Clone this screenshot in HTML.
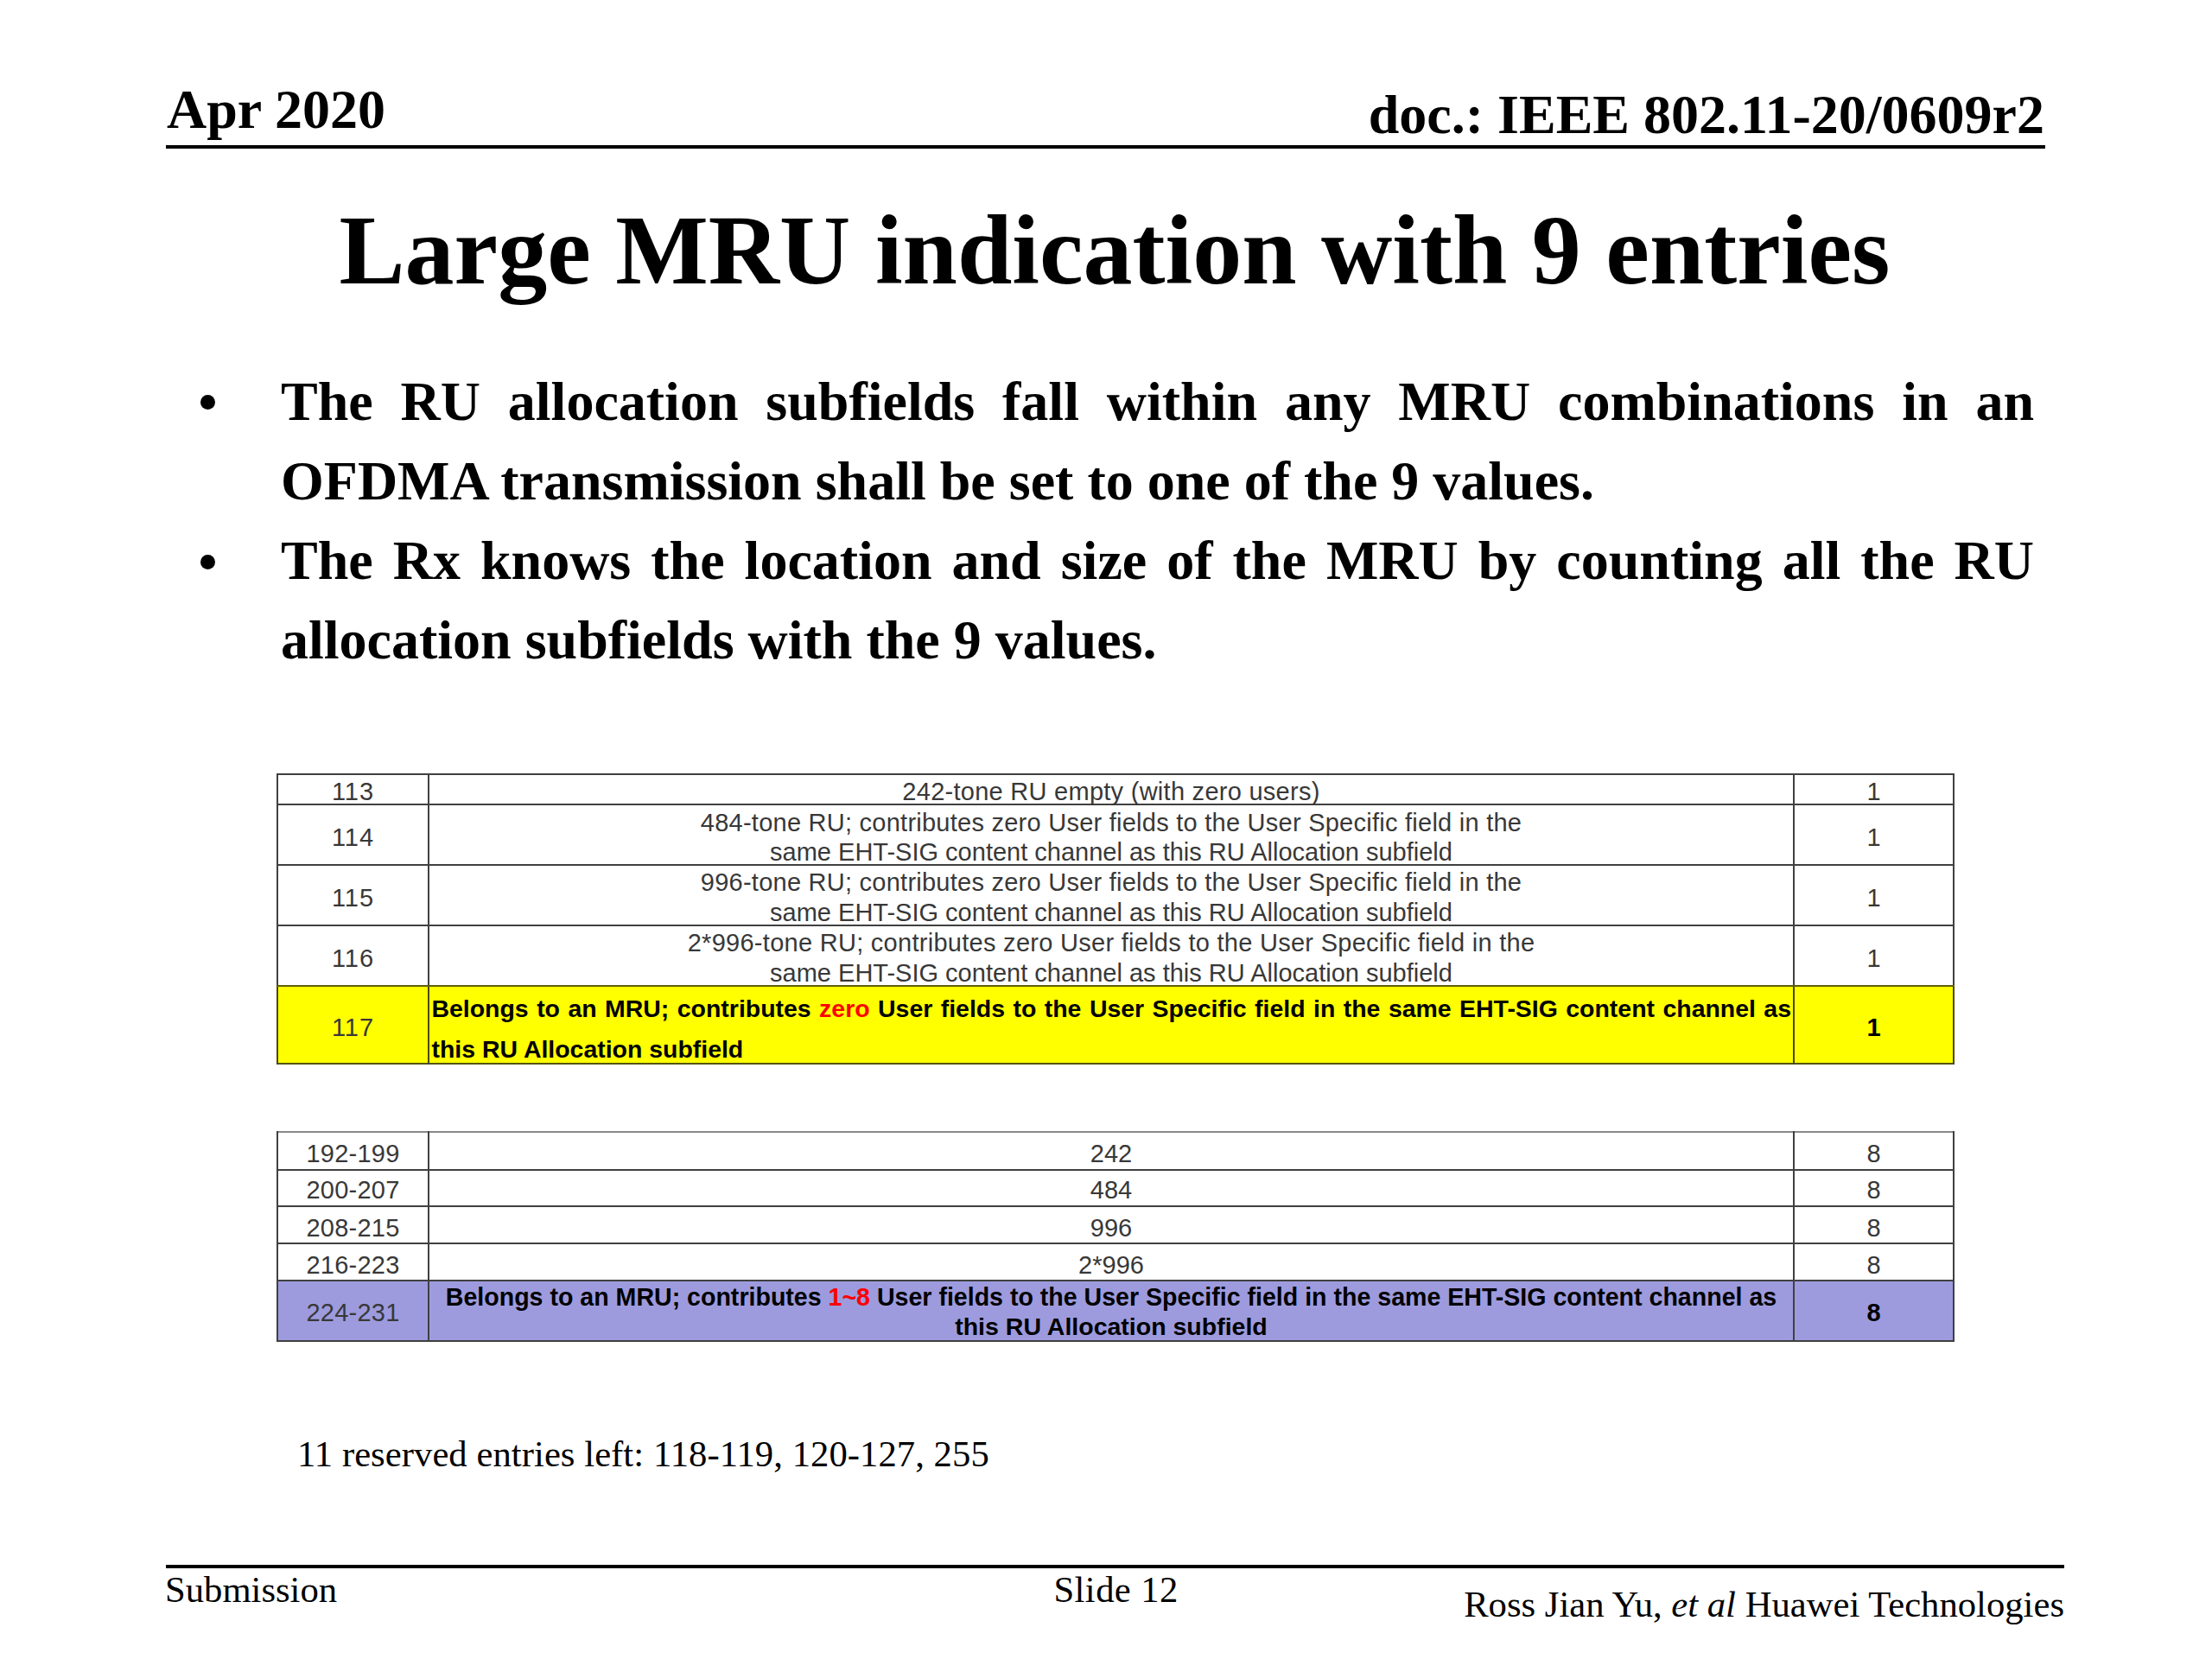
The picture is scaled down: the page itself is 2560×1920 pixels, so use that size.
<!DOCTYPE html>
<html><head><meta charset="utf-8"><style>
html,body{margin:0;padding:0;background:#fff;}
body{width:2560px;height:1920px;overflow:hidden;}
#pg{position:absolute;left:0;top:0;width:2560px;height:1920px;overflow:hidden;color:#000;background:#fff;}
.t{position:absolute;white-space:nowrap;}
.r{position:absolute;}
</style></head><body><div id="pg">
<div class="t" style="top:95.4px;font-family:'Liberation Serif', serif;font-size:64px;line-height:64px;font-weight:bold;left:193px;">Apr 2020</div>
<div class="t" style="top:101.4px;font-family:'Liberation Serif', serif;font-size:64px;line-height:64px;font-weight:bold;right:194px;text-align:right;">doc.: IEEE 802.11-20/0609r2</div>
<div class="r" style="left:192px;top:168px;width:2175px;height:4px;background:#000"></div>
<div class="t" style="top:232.5px;font-family:'Liberation Serif', serif;font-size:113.97px;line-height:114px;font-weight:bold;left:290.0px;width:2000px;text-align:center;">Large MRU indication with 9 entries</div>
<div class="r" style="left:231.5px;top:456.5px;width:17px;height:17px;border-radius:50%;background:#000"></div>
<div class="r" style="left:231.5px;top:641.5px;width:17px;height:17px;border-radius:50%;background:#000"></div>
<div class="t" style="top:419.4px;font-family:'Liberation Serif', serif;font-size:64px;line-height:92px;font-weight:bold;left:325px;width:2029px;text-align:justify;text-align-last:justify;">The RU allocation subfields fall within any MRU combinations in an</div>
<div class="t" style="top:511.4px;font-family:'Liberation Serif', serif;font-size:64px;line-height:92px;font-weight:bold;left:325px;">OFDMA transmission shall be set to one of the 9 values.</div>
<div class="t" style="top:603.4px;font-family:'Liberation Serif', serif;font-size:64px;line-height:92px;font-weight:bold;left:325px;width:2029px;text-align:justify;text-align-last:justify;">The Rx knows the location and size of the MRU by counting all the RU</div>
<div class="t" style="top:695.4px;font-family:'Liberation Serif', serif;font-size:64px;line-height:92px;font-weight:bold;left:325px;">allocation subfields with the 9 values.</div>
<div class="r" style="left:321px;top:1141px;width:1940px;height:90px;background:#FFFF00"></div>
<div class="r" style="left:320px;top:895px;width:1942px;height:2px;background:#404040"></div>
<div class="r" style="left:320px;top:930px;width:1942px;height:2px;background:#404040"></div>
<div class="r" style="left:320px;top:1000px;width:1942px;height:2px;background:#404040"></div>
<div class="r" style="left:320px;top:1070px;width:1942px;height:2px;background:#404040"></div>
<div class="r" style="left:320px;top:1140px;width:1942px;height:2px;background:#404040"></div>
<div class="r" style="left:320px;top:1230px;width:1942px;height:2px;background:#55550a"></div>
<div class="r" style="left:320px;top:895px;width:2px;height:337px;background:#404040"></div>
<div class="r" style="left:495px;top:895px;width:2px;height:337px;background:#404040"></div>
<div class="r" style="left:2075px;top:895px;width:2px;height:337px;background:#404040"></div>
<div class="r" style="left:2260px;top:895px;width:2px;height:337px;background:#404040"></div>
<div class="r" style="left:320px;top:1140px;width:1942px;height:2px;background:#5e5e0c"></div>
<div class="r" style="left:320px;top:1142px;width:2px;height:88px;background:#4a4a06"></div>
<div class="r" style="left:495px;top:1142px;width:2px;height:88px;background:#4a4a06"></div>
<div class="r" style="left:2075px;top:1142px;width:2px;height:88px;background:#4a4a06"></div>
<div class="r" style="left:2260px;top:1142px;width:2px;height:88px;background:#4a4a06"></div>
<div class="r" style="left:321px;top:1482px;width:1940px;height:70px;background:#9D9BDE"></div>
<div class="r" style="left:320px;top:1309px;width:1942px;height:2px;background:#888"></div>
<div class="r" style="left:320px;top:1353px;width:1942px;height:2px;background:#404040"></div>
<div class="r" style="left:320px;top:1395px;width:1942px;height:2px;background:#404040"></div>
<div class="r" style="left:320px;top:1438px;width:1942px;height:2px;background:#404040"></div>
<div class="r" style="left:320px;top:1481px;width:1942px;height:2px;background:#404040"></div>
<div class="r" style="left:320px;top:1551px;width:1942px;height:2px;background:#404040"></div>
<div class="r" style="left:320px;top:1309px;width:2px;height:244px;background:#404040"></div>
<div class="r" style="left:495px;top:1309px;width:2px;height:244px;background:#404040"></div>
<div class="r" style="left:2075px;top:1309px;width:2px;height:244px;background:#404040"></div>
<div class="r" style="left:2260px;top:1309px;width:2px;height:244px;background:#404040"></div>
<div class="t" style="top:901.5px;font-family:'Liberation Sans', sans-serif;font-size:29px;line-height:29px;font-weight:normal;left:321.0px;width:175px;text-align:center;color:#383838;letter-spacing:1px;">113</div>
<div class="t" style="top:901.5px;font-family:'Liberation Sans', sans-serif;font-size:29px;line-height:29px;font-weight:normal;left:476.0px;width:1620px;text-align:center;color:#383838;letter-spacing:0.27px;">242-tone RU empty (with zero users)</div>
<div class="t" style="top:901.5px;font-family:'Liberation Sans', sans-serif;font-size:29px;line-height:29px;font-weight:normal;left:2076.0px;width:185px;text-align:center;color:#383838;">1</div>
<div class="t" style="top:954.5px;font-family:'Liberation Sans', sans-serif;font-size:29px;line-height:29px;font-weight:normal;left:321.0px;width:175px;text-align:center;color:#383838;letter-spacing:1px;">114</div>
<div class="t" style="top:937.5px;font-family:'Liberation Sans', sans-serif;font-size:29px;line-height:29px;font-weight:normal;left:476.0px;width:1620px;text-align:center;color:#383838;letter-spacing:0.25px;">484-tone RU; contributes zero User fields to the User Specific field in the</div>
<div class="t" style="top:971.5px;font-family:'Liberation Sans', sans-serif;font-size:29px;line-height:29px;font-weight:normal;left:476.0px;width:1620px;text-align:center;color:#383838;letter-spacing:0.0px;">same EHT-SIG content channel as this RU Allocation subfield</div>
<div class="t" style="top:954.5px;font-family:'Liberation Sans', sans-serif;font-size:29px;line-height:29px;font-weight:normal;left:2076.0px;width:185px;text-align:center;color:#383838;">1</div>
<div class="t" style="top:1024.5px;font-family:'Liberation Sans', sans-serif;font-size:29px;line-height:29px;font-weight:normal;left:321.0px;width:175px;text-align:center;color:#383838;letter-spacing:1px;">115</div>
<div class="t" style="top:1007.0px;font-family:'Liberation Sans', sans-serif;font-size:29px;line-height:29px;font-weight:normal;left:476.0px;width:1620px;text-align:center;color:#383838;letter-spacing:0.25px;">996-tone RU; contributes zero User fields to the User Specific field in the</div>
<div class="t" style="top:1041.5px;font-family:'Liberation Sans', sans-serif;font-size:29px;line-height:29px;font-weight:normal;left:476.0px;width:1620px;text-align:center;color:#383838;letter-spacing:0.0px;">same EHT-SIG content channel as this RU Allocation subfield</div>
<div class="t" style="top:1024.5px;font-family:'Liberation Sans', sans-serif;font-size:29px;line-height:29px;font-weight:normal;left:2076.0px;width:185px;text-align:center;color:#383838;">1</div>
<div class="t" style="top:1094.5px;font-family:'Liberation Sans', sans-serif;font-size:29px;line-height:29px;font-weight:normal;left:321.0px;width:175px;text-align:center;color:#383838;letter-spacing:1px;">116</div>
<div class="t" style="top:1077.0px;font-family:'Liberation Sans', sans-serif;font-size:29px;line-height:29px;font-weight:normal;left:476.0px;width:1620px;text-align:center;color:#383838;letter-spacing:0.28px;">2*996-tone RU; contributes zero User fields to the User Specific field in the</div>
<div class="t" style="top:1111.5px;font-family:'Liberation Sans', sans-serif;font-size:29px;line-height:29px;font-weight:normal;left:476.0px;width:1620px;text-align:center;color:#383838;letter-spacing:0.0px;">same EHT-SIG content channel as this RU Allocation subfield</div>
<div class="t" style="top:1094.5px;font-family:'Liberation Sans', sans-serif;font-size:29px;line-height:29px;font-weight:normal;left:2076.0px;width:185px;text-align:center;color:#383838;">1</div>
<div class="t" style="top:1174.5px;font-family:'Liberation Sans', sans-serif;font-size:29px;line-height:29px;font-weight:normal;left:321.0px;width:175px;text-align:center;color:#383838;letter-spacing:1px;">117</div>
<div class="t" style="top:1153.1px;font-family:'Liberation Sans', sans-serif;font-size:28.44px;line-height:28px;font-weight:bold;left:499.5px;width:1573.5px;text-align:justify;text-align-last:justify;">Belongs to an MRU; contributes <span style="color:#F00">zero</span> User fields to the User Specific field in the same EHT-SIG content channel as</div>
<div class="t" style="top:1200.1px;font-family:'Liberation Sans', sans-serif;font-size:28.44px;line-height:28px;font-weight:bold;left:499.5px;">this RU Allocation subfield</div>
<div class="t" style="top:1174.5px;font-family:'Liberation Sans', sans-serif;font-size:29px;line-height:29px;font-weight:bold;left:2076.0px;width:185px;text-align:center;">1</div>
<div class="t" style="top:1320.5px;font-family:'Liberation Sans', sans-serif;font-size:29px;line-height:29px;font-weight:normal;left:321.0px;width:175px;text-align:center;color:#383838;letter-spacing:0.25px;">192-199</div>
<div class="t" style="top:1320.5px;font-family:'Liberation Sans', sans-serif;font-size:29px;line-height:29px;font-weight:normal;left:496.0px;width:1580px;text-align:center;color:#383838;">242</div>
<div class="t" style="top:1320.5px;font-family:'Liberation Sans', sans-serif;font-size:29px;line-height:29px;font-weight:normal;left:2076.0px;width:185px;text-align:center;color:#383838;">8</div>
<div class="t" style="top:1362.5px;font-family:'Liberation Sans', sans-serif;font-size:29px;line-height:29px;font-weight:normal;left:321.0px;width:175px;text-align:center;color:#383838;letter-spacing:0.25px;">200-207</div>
<div class="t" style="top:1362.5px;font-family:'Liberation Sans', sans-serif;font-size:29px;line-height:29px;font-weight:normal;left:496.0px;width:1580px;text-align:center;color:#383838;">484</div>
<div class="t" style="top:1362.5px;font-family:'Liberation Sans', sans-serif;font-size:29px;line-height:29px;font-weight:normal;left:2076.0px;width:185px;text-align:center;color:#383838;">8</div>
<div class="t" style="top:1406.5px;font-family:'Liberation Sans', sans-serif;font-size:29px;line-height:29px;font-weight:normal;left:321.0px;width:175px;text-align:center;color:#383838;letter-spacing:0.25px;">208-215</div>
<div class="t" style="top:1406.5px;font-family:'Liberation Sans', sans-serif;font-size:29px;line-height:29px;font-weight:normal;left:496.0px;width:1580px;text-align:center;color:#383838;">996</div>
<div class="t" style="top:1406.5px;font-family:'Liberation Sans', sans-serif;font-size:29px;line-height:29px;font-weight:normal;left:2076.0px;width:185px;text-align:center;color:#383838;">8</div>
<div class="t" style="top:1449.5px;font-family:'Liberation Sans', sans-serif;font-size:29px;line-height:29px;font-weight:normal;left:321.0px;width:175px;text-align:center;color:#383838;letter-spacing:0.25px;">216-223</div>
<div class="t" style="top:1449.5px;font-family:'Liberation Sans', sans-serif;font-size:29px;line-height:29px;font-weight:normal;left:496.0px;width:1580px;text-align:center;color:#383838;">2*996</div>
<div class="t" style="top:1449.5px;font-family:'Liberation Sans', sans-serif;font-size:29px;line-height:29px;font-weight:normal;left:2076.0px;width:185px;text-align:center;color:#383838;">8</div>
<div class="t" style="top:1504.5px;font-family:'Liberation Sans', sans-serif;font-size:29px;line-height:29px;font-weight:normal;left:321.0px;width:175px;text-align:center;color:#383838;letter-spacing:0.25px;">224-231</div>
<div class="t" style="top:1486.6px;font-family:'Liberation Sans', sans-serif;font-size:28.57px;line-height:29px;font-weight:bold;left:486.0px;width:1600px;text-align:center;">Belongs to an MRU; contributes <span style="color:#F00">1~8</span> User fields to the User Specific field in the same EHT-SIG content channel as</div>
<div class="t" style="top:1521.1px;font-family:'Liberation Sans', sans-serif;font-size:28.5px;line-height:28px;font-weight:bold;left:496.0px;width:1580px;text-align:center;">this RU Allocation subfield</div>
<div class="t" style="top:1504.5px;font-family:'Liberation Sans', sans-serif;font-size:29px;line-height:29px;font-weight:bold;left:2076.0px;width:185px;text-align:center;">8</div>
<div class="t" style="top:1661.1px;font-family:'Liberation Serif', serif;font-size:42.67px;line-height:43px;font-weight:normal;left:344px;letter-spacing:0.05px;">11 reserved entries left: 118-119, 120-127, 255</div>
<div class="r" style="left:192px;top:1811px;width:2197px;height:4px;background:#000"></div>
<div class="t" style="top:1818.1px;font-family:'Liberation Serif', serif;font-size:42.67px;line-height:43px;font-weight:normal;left:191px;">Submission</div>
<div class="t" style="top:1818.1px;font-family:'Liberation Serif', serif;font-size:42.67px;line-height:43px;font-weight:normal;left:1219.5px;letter-spacing:0.4px;">Slide 12</div>
<div class="t" style="top:1835.1px;font-family:'Liberation Serif', serif;font-size:42.67px;line-height:43px;font-weight:normal;right:171px;text-align:right;">Ross Jian Yu, <i>et al</i> Huawei Technologies</div>
</div></body></html>
